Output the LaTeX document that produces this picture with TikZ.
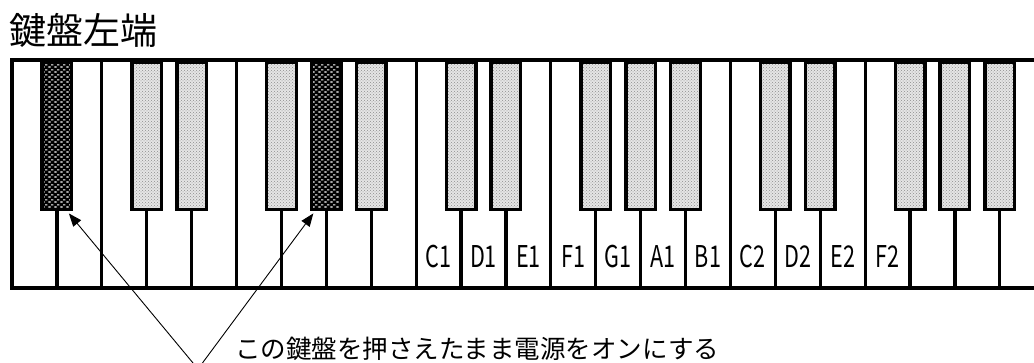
\documentclass[tikz,border=0pt]{standalone}
\usepackage{fontspec}
\setmainfont{Noto Sans CJK JP}
\newfontfamily\keylblfont{Noto Sans CJK JP}[FakeStretch=0.72]
\usetikzlibrary{patterns,arrows.meta,calc}
\pgfdeclarepatternformonly{keybricks}{\pgfqpoint{0pt}{0pt}}{\pgfqpoint{6pt}{5pt}}{\pgfqpoint{6pt}{5pt}}{%
  \pgfpathrectangle{\pgfqpoint{0.5pt}{0.5pt}}{\pgfqpoint{2.6pt}{1.4pt}}%
  \pgfpathrectangle{\pgfqpoint{3.5pt}{3pt}}{\pgfqpoint{2.6pt}{1.4pt}}%
  \pgfusepath{fill}}
\tikzset{
  wkey/.style={draw=black, line width=3.2pt, fill=white, inner sep=0pt,
    minimum width=44.9pt, minimum height=228pt},
  bkey/.style={draw=black, line width=3.4pt, inner sep=0pt,
    minimum width=29.6pt, minimum height=147pt,
    preaction={fill=black!10}, pattern=crosshatch dots, pattern color=black!45},
  darkkey/.style={draw=black, line width=3.4pt, inner sep=0pt,
    minimum width=29.6pt, minimum height=147pt,
    preaction={fill=black}, pattern=keybricks, pattern color=white},
  keylabel/.style={inner sep=0pt, anchor=base, font=\keylblfont\fontsize{30}{30}\selectfont},
  pointer/.style={line width=0.9pt, -{Triangle[length=13pt,width=10pt]}},
}
\begin{document}
\begin{tikzpicture}[x=1pt,y=-1pt]
\useasboundingbox (0,0) rectangle (1034,363);
% title
\node[inner sep=0pt, anchor=base west, font=\fontsize{37}{37}\selectfont] (title) at (9,45) {鍵盤左端};
% white keys
\foreach \k in {0,...,22} {
  \node[wkey] (w\k) at ({12+44.9*\k+22.45},174) {};
}
% black keys
\foreach \d in {3,4,6,8,10,11,13,14,15,17,18,20,21,22} {
  \node[bkey] (b\d) at ({12+44.9*\d},135.75) {};
}
\foreach \d in {1,7} {
  \node[darkkey] (b\d) at ({12+44.9*\d},135.75) {};
}
% labels
\foreach \k/\t in {9/C1,10/D1,11/E1,12/F1,13/G1,14/A1,15/B1,16/C2,17/D2,18/E2,19/F2} {
  \node[keylabel] (l\k) at ({12+44.9*\k+22.45},268) {\t};
}
% instruction
\node[inner sep=0pt, anchor=base west, font=\fontsize{25.5}{25.5}\selectfont] (note) at (235,359) {この鍵盤を押さえたまま電源をオンにする};
\coordinate (src) at (198,369);
\draw[pointer] (src) -- ($(b1.south east)+(-4.5,2.5)$);
\draw[pointer] (src) -- ($(b7.south west)+(3.5,2.5)$);
\end{tikzpicture}
\end{document}
